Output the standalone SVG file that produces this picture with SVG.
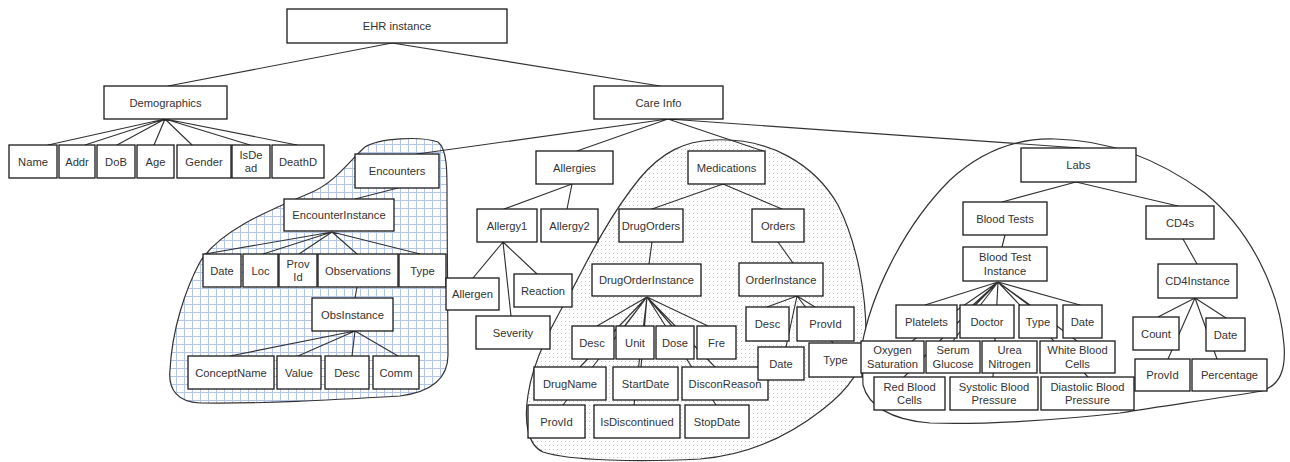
<svg xmlns="http://www.w3.org/2000/svg" width="1290" height="462" viewBox="0 0 1290 462">
  <style>
    .box { fill: #ffffff; stroke: #1a1a1a; stroke-width: 1.3; }
    .t { font-family: "Liberation Sans", Arial, sans-serif; font-size: 11.2px; fill: #333333; text-anchor: middle; }
    .c { stroke: #333333; stroke-width: 1.15; fill: none; stroke-linecap: round; }
    .blob { stroke: #333333; stroke-width: 1.2; }
  </style>
  <defs>
    <pattern id="grid" width="8" height="8" patternUnits="userSpaceOnUse">
      <rect width="8" height="8" fill="#ffffff"/>
      <path d="M 0 0.5 H 8 M 0.5 0 V 8" stroke="#b3c6ea" stroke-width="1"/>
    </pattern>
    <pattern id="dots" width="4" height="4" patternUnits="userSpaceOnUse">
      <rect width="4" height="4" fill="#ffffff"/>
      <rect x="1" y="1" width="1" height="1" fill="#bcc6e0"/>
    </pattern>
  </defs>

  <rect width="1290" height="462" fill="#ffffff"/>

  <!-- grouping regions -->
  <g id="regions">
    <path id="region-encounters" class="blob" fill="url(#grid)" d="M 365,147 C 380,138 420,136 438,142 C 448,150 447,175 447,200 L 448,355 C 448,380 430,392 400,396 C 330,400 260,404 200,403 C 178,402 168,390 170,370 C 172,330 185,290 200,262 C 220,230 270,210 310,193 C 335,183 350,160 365,147 Z"/>
    <path id="region-medications" class="blob" fill="url(#dots)" d="M 713,140 C 770,137 815,165 838,205 C 858,245 866,295 866,335 C 866,368 848,390 822,410 C 790,435 750,455 700,459 C 640,462 570,461 543,452 C 527,445 524,420 528,395 C 533,360 552,325 572,290 C 590,255 610,215 640,178 C 662,152 685,141 713,140 Z"/>
    <path id="region-labs" class="blob" fill="#ffffff" d="M 862,345 C 870,300 900,230 950,180 C 985,148 1020,138 1055,139 C 1110,140 1160,160 1205,193 C 1250,230 1280,290 1284,345 C 1286,370 1280,385 1262,391 C 1220,398 1170,405 1120,413 C 1060,420 980,425 930,423 C 890,420 868,405 863,385 Z"/>
  </g>

  <!-- connectors -->
  <g id="connectors" class="c">
    <path d="M392,43 L168,86"/>
    <path d="M392,43 L660,86"/>
    <!-- demographics -->
    <path d="M165,119 L48,145 M165,119 L85,145 M165,119 L117,145 M165,119 L154,145 M165,119 L192,145 M165,119 L250,145 M165,119 L297,145"/>
    <!-- care info -->
    <path d="M668,119 L417,154 M668,119 L577,151 M668,119 L763,151 M668,119 L1080,148"/>
    <!-- encounters -->
    <path d="M398,188 L355,199"/>
    <path d="M332,232 L205,254 M332,232 L263,254 M332,232 L299,254 M332,232 L357,254 M332,232 L420,254"/>
    <path d="M357,287 L355,298"/>
    <path d="M355,331 L230,356 M355,331 L298,356 M355,331 L352,356 M355,331 L398,356"/>
    <!-- allergies -->
    <path d="M572,184 L504,209 M572,184 L567,209"/>
    <path d="M503,242 L473,278 M503,242 L511,316 M503,242 L537,274"/>
    <!-- medications -->
    <path d="M723,184 L652,209 M723,184 L782,209"/>
    <path d="M652,242 L649,264"/>
    <path d="M647,297 L597,326 M647,297 L625,326 M647,297 L672,326 M647,297 L708,326 M647,297 L580,367 M647,297 L563,405 M647,297 L641,367 M647,297 L634,405 M647,297 L715,367 M647,297 L716,405"/>
    <path d="M778,242 L793,263"/>
    <path d="M797,296 L767,307 M797,296 L786,347 M797,296 L815,307 M797,296 L833,343"/>
    <!-- labs -->
    <path d="M1076,182 L1002,202 M1076,182 L1178,206"/>
    <path d="M1005,235 L1002,247"/>
    <path d="M998,282 L925,305 M998,282 L973,305 M998,282 L1030,305 M998,282 L1080,305 M998,282 L912,341 M998,282 L953,341 M998,282 L995,341 M998,282 L1077,341 M998,282 L904,377 M998,282 L993,377 M998,282 L1088,377"/>
    <path d="M1183,239 L1197,264"/>
    <path d="M1195,298 L1158,317 M1195,298 L1168,359 M1195,298 L1226,318 M1195,298 L1217,359"/>
  </g>

  <!-- nodes -->
  <g id="n-ehr"><rect class="box" x="287" y="9" width="220" height="34"/><text class="t" x="397" y="30">EHR instance</text></g>
  <g id="n-demographics"><rect class="box" x="104" y="86" width="123" height="33"/><text class="t" x="165.5" y="106.5">Demographics</text></g>
  <g id="n-careinfo"><rect class="box" x="594" y="86" width="129" height="33"/><text class="t" x="658.5" y="106.5">Care Info</text></g>

  <g id="n-name"><rect class="box" x="9" y="145" width="48" height="33"/><text class="t" x="33" y="165.5">Name</text></g>
  <g id="n-addr"><rect class="box" x="59" y="145" width="36" height="33"/><text class="t" x="77" y="165.5">Addr</text></g>
  <g id="n-dob"><rect class="box" x="97" y="145" width="38" height="33"/><text class="t" x="116" y="165.5">DoB</text></g>
  <g id="n-age"><rect class="box" x="137" y="145" width="37" height="33"/><text class="t" x="155.5" y="165.5">Age</text></g>
  <g id="n-gender"><rect class="box" x="177" y="145" width="54" height="33"/><text class="t" x="204" y="165.5">Gender</text></g>
  <g id="n-isdead"><rect class="box" x="232" y="145" width="38" height="33"/><text class="t" x="251" y="158.5">IsDe</text><text class="t" x="251" y="172">ad</text></g>
  <g id="n-deathd"><rect class="box" x="272" y="145" width="52" height="33"/><text class="t" x="298" y="165.5">DeathD</text></g>

  <g id="n-encounters"><rect class="box" x="355" y="154" width="84" height="34"/><text class="t" x="397" y="175">Encounters</text></g>
  <g id="n-allergies"><rect class="box" x="536" y="151" width="77" height="33"/><text class="t" x="574.5" y="171.5">Allergies</text></g>
  <g id="n-medications"><rect class="box" x="688" y="151" width="77" height="33"/><text class="t" x="726.5" y="171.5">Medications</text></g>
  <g id="n-labs"><rect class="box" x="1021" y="148" width="115" height="34"/><text class="t" x="1078.5" y="169">Labs</text></g>

  <g id="n-encounterinstance"><rect class="box" x="284" y="199" width="110" height="32"/><text class="t" x="339" y="219">EncounterInstance</text></g>
  <g id="n-enc-date"><rect class="box" x="203" y="254" width="38" height="33"/><text class="t" x="222" y="274.5">Date</text></g>
  <g id="n-enc-loc"><rect class="box" x="243" y="254" width="35" height="33"/><text class="t" x="260.5" y="274.5">Loc</text></g>
  <g id="n-enc-provid"><rect class="box" x="279" y="254" width="38" height="33"/><text class="t" x="298" y="267.5">Prov</text><text class="t" x="298" y="281">Id</text></g>
  <g id="n-observations"><rect class="box" x="318" y="254" width="80" height="33"/><text class="t" x="358" y="274.5">Observations</text></g>
  <g id="n-enc-type"><rect class="box" x="399" y="254" width="47" height="33"/><text class="t" x="422.5" y="274.5">Type</text></g>
  <g id="n-obsinstance"><rect class="box" x="312" y="298" width="81" height="33"/><text class="t" x="352.5" y="318.5">ObsInstance</text></g>
  <g id="n-conceptname"><rect class="box" x="188" y="356" width="86" height="33"/><text class="t" x="231" y="376.5">ConceptName</text></g>
  <g id="n-value"><rect class="box" x="277" y="356" width="44" height="33"/><text class="t" x="299" y="376.5">Value</text></g>
  <g id="n-obs-desc"><rect class="box" x="325" y="356" width="44" height="33"/><text class="t" x="347" y="376.5">Desc</text></g>
  <g id="n-comm"><rect class="box" x="373" y="356" width="46" height="33"/><text class="t" x="396" y="376.5">Comm</text></g>

  <g id="n-allergy1"><rect class="box" x="477" y="209" width="60" height="33"/><text class="t" x="507" y="229.5">Allergy1</text></g>
  <g id="n-allergy2"><rect class="box" x="541" y="209" width="57" height="33"/><text class="t" x="569.5" y="229.5">Allergy2</text></g>
  <g id="n-allergen"><rect class="box" x="446" y="278" width="53" height="32"/><text class="t" x="472.5" y="298">Allergen</text></g>
  <g id="n-reaction"><rect class="box" x="514" y="274" width="58" height="33"/><text class="t" x="543" y="294.5">Reaction</text></g>
  <g id="n-severity"><rect class="box" x="476" y="316" width="74" height="33"/><text class="t" x="513" y="336.5">Severity</text></g>

  <g id="n-drugorders"><rect class="box" x="619" y="209" width="64" height="33"/><text class="t" x="651" y="229.5">DrugOrders</text></g>
  <g id="n-orders"><rect class="box" x="752" y="209" width="52" height="33"/><text class="t" x="778" y="229.5">Orders</text></g>
  <g id="n-drugorderinstance"><rect class="box" x="592" y="264" width="109" height="32"/><text class="t" x="646.5" y="284">DrugOrderInstance</text></g>
  <g id="n-drug-desc"><rect class="box" x="572" y="326" width="42" height="33"/><text class="t" x="592" y="346.5">Desc</text></g>
  <g id="n-unit"><rect class="box" x="616" y="326" width="38" height="33"/><text class="t" x="635" y="346.5">Unit</text></g>
  <g id="n-dose"><rect class="box" x="656" y="326" width="38" height="33"/><text class="t" x="675" y="346.5">Dose</text></g>
  <g id="n-fre"><rect class="box" x="697" y="326" width="39" height="33"/><text class="t" x="716.5" y="346.5">Fre</text></g>
  <g id="n-drugname"><rect class="box" x="534" y="367" width="72" height="33"/><text class="t" x="570" y="387.5">DrugName</text></g>
  <g id="n-startdate"><rect class="box" x="613" y="367" width="65" height="33"/><text class="t" x="645.5" y="387.5">StartDate</text></g>
  <g id="n-disconreason"><rect class="box" x="682" y="367" width="86" height="33"/><text class="t" x="725" y="387.5">DisconReason</text></g>
  <g id="n-drug-provid"><rect class="box" x="528" y="405" width="57" height="33"/><text class="t" x="556.5" y="425.5">ProvId</text></g>
  <g id="n-isdiscontinued"><rect class="box" x="594" y="405" width="86" height="33"/><text class="t" x="637" y="425.5">IsDiscontinued</text></g>
  <g id="n-stopdate"><rect class="box" x="685" y="405" width="64" height="33"/><text class="t" x="717" y="425.5">StopDate</text></g>

  <g id="n-orderinstance"><rect class="box" x="739" y="263" width="84" height="33"/><text class="t" x="781" y="283.5">OrderInstance</text></g>
  <g id="n-ord-desc"><rect class="box" x="746" y="307" width="43" height="34"/><text class="t" x="767.5" y="328">Desc</text></g>
  <g id="n-ord-provid"><rect class="box" x="797" y="307" width="57" height="34"/><text class="t" x="825.5" y="328">ProvId</text></g>
  <g id="n-ord-date"><rect class="box" x="758" y="347" width="46" height="33"/><text class="t" x="781" y="367.5">Date</text></g>
  <g id="n-ord-type"><rect class="box" x="809" y="343" width="53" height="34"/><text class="t" x="835.5" y="364">Type</text></g>

  <g id="n-bloodtests"><rect class="box" x="963" y="202" width="84" height="33"/><text class="t" x="1005" y="222.5">Blood Tests</text></g>
  <g id="n-cd4s"><rect class="box" x="1146" y="206" width="68" height="33"/><text class="t" x="1180" y="226.5">CD4s</text></g>
  <g id="n-bloodtestinstance"><rect class="box" x="963" y="247" width="84" height="34"/><text class="t" x="1005" y="261">Blood Test</text><text class="t" x="1005" y="274.5">Instance</text></g>
  <g id="n-platelets"><rect class="box" x="896" y="305" width="61" height="33"/><text class="t" x="926.5" y="325.5">Platelets</text></g>
  <g id="n-doctor"><rect class="box" x="960" y="305" width="54" height="33"/><text class="t" x="987" y="325.5">Doctor</text></g>
  <g id="n-lab-type"><rect class="box" x="1019" y="305" width="38" height="33"/><text class="t" x="1038" y="325.5">Type</text></g>
  <g id="n-lab-date"><rect class="box" x="1063" y="305" width="39" height="33"/><text class="t" x="1082.5" y="325.5">Date</text></g>
  <g id="n-oxygen"><rect class="box" x="861" y="341" width="63" height="32"/><text class="t" x="892.5" y="354">Oxygen</text><text class="t" x="892.5" y="367.5">Saturation</text></g>
  <g id="n-glucose"><rect class="box" x="926" y="341" width="54" height="32"/><text class="t" x="953" y="354">Serum</text><text class="t" x="953" y="367.5">Glucose</text></g>
  <g id="n-urea"><rect class="box" x="982" y="341" width="55" height="32"/><text class="t" x="1009.5" y="354">Urea</text><text class="t" x="1009.5" y="367.5">Nitrogen</text></g>
  <g id="n-wbc"><rect class="box" x="1040" y="341" width="75" height="32"/><text class="t" x="1077.5" y="354">White Blood</text><text class="t" x="1077.5" y="367.5">Cells</text></g>
  <g id="n-rbc"><rect class="box" x="874" y="377" width="71" height="33"/><text class="t" x="909.5" y="390.5">Red Blood</text><text class="t" x="909.5" y="404">Cells</text></g>
  <g id="n-systolic"><rect class="box" x="950" y="377" width="88" height="33"/><text class="t" x="994" y="390.5">Systolic Blood</text><text class="t" x="994" y="404">Pressure</text></g>
  <g id="n-diastolic"><rect class="box" x="1041" y="377" width="93" height="33"/><text class="t" x="1087.5" y="390.5">Diastolic Blood</text><text class="t" x="1087.5" y="404">Pressure</text></g>

  <g id="n-cd4instance"><rect class="box" x="1158" y="264" width="79" height="34"/><text class="t" x="1197.5" y="285">CD4Instance</text></g>
  <g id="n-count"><rect class="box" x="1133" y="317" width="46" height="33"/><text class="t" x="1156" y="337.5">Count</text></g>
  <g id="n-cd4-date"><rect class="box" x="1206" y="318" width="39" height="33"/><text class="t" x="1225.5" y="338.5">Date</text></g>
  <g id="n-cd4-provid"><rect class="box" x="1135" y="359" width="55" height="32"/><text class="t" x="1162.5" y="379">ProvId</text></g>
  <g id="n-percentage"><rect class="box" x="1192" y="359" width="75" height="32"/><text class="t" x="1229.5" y="379">Percentage</text></g>
</svg>
